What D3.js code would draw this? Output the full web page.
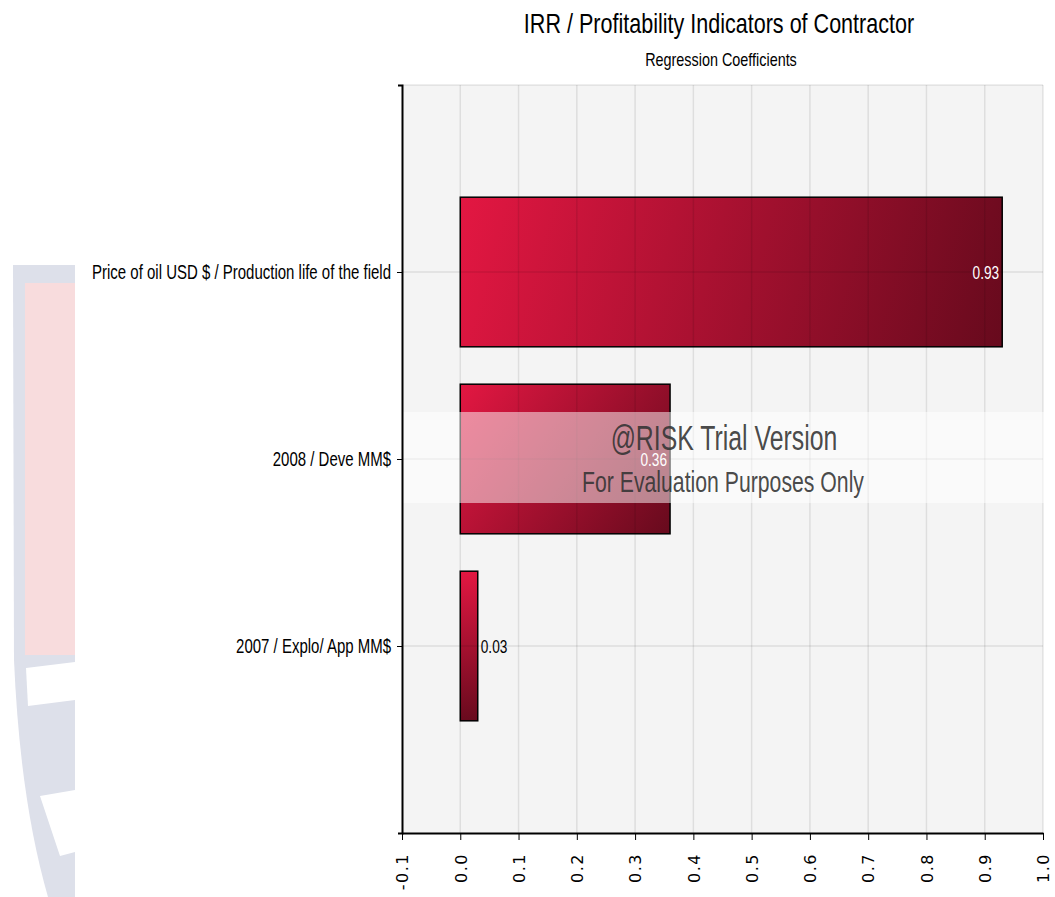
<!DOCTYPE html>
<html>
<head>
<meta charset="utf-8">
<script src="https://cdn.jsdelivr.net/npm/d3@7"></script>
<style>
  body { margin: 0; background: #fff; }
  svg { display: block; }
</style>
</head>
<body>
<div id="chart"></div>
<script>
// data
const categories = [
    "Price of oil USD $ / Production life of the field",
    "2008 / Deve MM$",
    "2007 / Explo/ App MM$"
];
const coefficients = [0.93, 0.36, 0.03];
const valueLabels = ["0.93", "0.36", "0.03"];
const xTicks = [-0.1, 0.0, 0.1, 0.2, 0.3, 0.4, 0.5, 0.6, 0.7, 0.8, 0.9, 1.0];
const xTickLabels = ["-0.1", "0.0", "0.1", "0.2", "0.3", "0.4", "0.5", "0.6", "0.7", "0.8", "0.9", "1.0"];

const width = 1055, height = 897;
const plot = { left: 402, right: 1043, top: 85, bottom: 833 };
const condensed = "'Liberation Sans', Arial, sans-serif";

const svg = d3.select("#chart").append("svg")
    .attr("width", width)
    .attr("height", height);

// faded logo at the left edge (background decoration)
const logo = svg.append("g");
logo.append("path")
    .attr("d", "M13,265 L75,265 L75,897 L48,897 Q20,800 14,660 Z")
    .attr("fill", "#dde0ea");
logo.append("rect")
    .attr("x", 25).attr("y", 283).attr("width", 50).attr("height", 372)
    .attr("fill", "#f8dcdd");
logo.append("path")
    .attr("d", "M26,668 L75,662 L75,700 L28,706 Z")
    .attr("fill", "#ffffff");
logo.append("path")
    .attr("d", "M40,796 L75,790 L75,852 L60,856 Z")
    .attr("fill", "#ffffff");

// scales
const x = d3.scaleLinear().domain([-0.1, 1.0]).range([plot.left, plot.right]);
const y = d3.scalePoint().domain(categories).range([plot.top, plot.bottom]).padding(1);
const barH = y.step() * 0.8;

// plot background
svg.append("rect")
    .attr("x", plot.left).attr("y", plot.top)
    .attr("width", plot.right - plot.left).attr("height", plot.bottom - plot.top)
    .attr("fill", "#f4f4f4");

const data = categories.map((c, i) => ({ cat: c, value: coefficients[i], label: valueLabels[i] }));

// one gradient per bar, running along the bar's diagonal
const defs = svg.append("defs");
const grads = defs.selectAll("linearGradient")
    .data(data)
    .join("linearGradient")
    .attr("id", (d, i) => "barGrad" + i)
    .attr("gradientUnits", "userSpaceOnUse")
    .attr("x1", d => x(Math.min(0, d.value)))
    .attr("y1", d => y(d.cat) - barH / 2)
    .attr("x2", d => x(Math.max(0, d.value)))
    .attr("y2", d => y(d.cat) + barH / 2);
grads.append("stop").attr("offset", "0%").attr("stop-color", "#e31742");
grads.append("stop").attr("offset", "100%").attr("stop-color", "#670a1d");

// bars
svg.append("g").selectAll("rect")
    .data(data)
    .join("rect")
    .attr("x", d => x(Math.min(0, d.value)))
    .attr("y", d => y(d.cat) - barH / 2)
    .attr("width", d => Math.abs(x(d.value) - x(0)))
    .attr("height", barH)
    .attr("fill", (d, i) => `url(#barGrad${i})`)
    .attr("stroke", "#000")
    .attr("stroke-width", 1.5);

// grid lines drawn on top (they show through the bars)
const grid = svg.append("g")
    .attr("stroke", "#000")
    .attr("stroke-opacity", 0.09)
    .attr("stroke-width", 1.5);
grid.selectAll(".v")
    .data(xTicks.slice(1))
    .join("line")
    .attr("x1", d => x(d)).attr("x2", d => x(d))
    .attr("y1", plot.top).attr("y2", plot.bottom);
grid.selectAll(".h")
    .data([plot.top].concat(categories.map(c => y(c))))
    .join("line")
    .attr("x1", plot.left).attr("x2", plot.right)
    .attr("y1", d => d).attr("y2", d => d);

// condensed text helper
function squeezedText(g, tx, ty, txt, size, anchor, squeeze) {
    return g.append("text")
        .attr("transform", `translate(${tx},${ty}) scale(${squeeze},1)`)
        .attr("text-anchor", anchor)
        .attr("font-family", condensed)
        .attr("font-size", size)
        .text(txt);
}

// watermark band
const wm = svg.append("g");
wm.append("rect")
    .attr("x", plot.left).attr("y", 412)
    .attr("width", 648).attr("height", 91)
    .attr("fill", "#fff").attr("fill-opacity", 0.5);

// value labels
const valG = svg.append("g");
data.forEach(d => {
    const inside = (x(d.value) - x(0)) > 40;
    squeezedText(valG, inside ? x(d.value) - 3 : x(d.value) + 3, y(d.cat) + 7, d.label, 19, inside ? "end" : "start", 0.72)
        .attr("fill", inside ? "#fff" : "#000");
});

squeezedText(wm, 724, 450, "@RISK Trial Version", 34.5, "middle", 0.72).attr("fill", "#333").attr("fill-opacity", 0.9);
squeezedText(wm, 723, 492, "For Evaluation Purposes Only", 29.5, "middle", 0.72).attr("fill", "#333").attr("fill-opacity", 0.9);

// y axis
const yAxis = svg.append("g")
    .attr("transform", `translate(${plot.left},0)`)
    .call(d3.axisLeft(y).tickSizeInner(5).tickSizeOuter(4).tickPadding(6));
yAxis.select(".domain").attr("stroke-width", 2);
yAxis.selectAll("text")
    .attr("font-family", condensed)
    .attr("font-size", 20)
    .attr("fill", "#000")
    .attr("transform", function () {
        const tx = +d3.select(this).attr("x");
        return `translate(${tx},0) scale(0.75,1) translate(${-tx},0)`;
    });

// x axis
const xAxis = svg.append("g")
    .attr("transform", `translate(0,${plot.bottom})`)
    .call(d3.axisBottom(x).tickValues(xTicks).tickFormat((d, i) => xTickLabels[i]).tickSizeInner(7).tickSizeOuter(0));
xAxis.select(".domain").attr("stroke-width", 2);
xAxis.selectAll("text")
    .attr("transform", "rotate(-90)")
    .attr("text-anchor", "end")
    .attr("x", -20)
    .attr("y", 0)
    .attr("dy", "0.36em")
    .attr("font-family", "'DejaVu Sans', Verdana, sans-serif")
    .attr("font-size", 16)
    .attr("letter-spacing", 1.5)
    .attr("fill", "#000");

// titles
squeezedText(svg, 719, 33, "IRR / Profitability Indicators of Contractor", 28, "middle", 0.77).attr("fill", "#000");
squeezedText(svg, 721, 66, "Regression Coefficients", 18, "middle", 0.8).attr("fill", "#000");
</script>
</body>
</html>
